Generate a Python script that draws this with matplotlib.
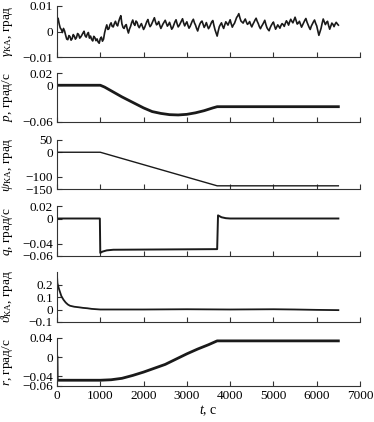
import numpy as np
import matplotlib
matplotlib.use("Agg")
import matplotlib.pyplot as plt

plt.rcParams['font.family'] = ['Liberation Serif', 'DejaVu Serif']
plt.rcParams['mathtext.fontset'] = 'custom'
plt.rcParams['mathtext.rm'] = 'Liberation Serif'
plt.rcParams['mathtext.it'] = 'Liberation Serif:italic'
plt.rcParams['font.size'] = 10

# ---------------- data ----------------
# gamma sampled every 50 s (t = 0, 50, ...) and at the 25 s offsets in between
gamma_v_a = [
    0.0045, 0.0030, 0.0008, 0.0012, -0.0015, -0.0032, -0.0020, -0.0028, -0.0018, -0.0024,
    -0.0012, -0.0021, -0.0006, -0.0017, -0.0010, -0.0026, -0.0031, -0.0019, -0.0036, -0.0041,
    -0.0028, -0.0038, -0.0005, 0.0026, 0.0011, 0.0034, 0.0018, 0.0040, 0.0022, 0.0052,
    0.0030, 0.0012, 0.0027, -0.0006, 0.0020, 0.0045, 0.0024, 0.0036, 0.0015, 0.0031,
    0.0008, 0.0028, 0.0047, 0.0019, 0.0035, 0.0054, 0.0026, 0.0039, 0.0012, 0.0030,
    0.0044, 0.0021, 0.0036, 0.0009, 0.0027, 0.0046, 0.0018, 0.0033, 0.0050, 0.0022,
    0.0038, 0.0013, 0.0031, 0.0048, 0.0025, 0.0002, 0.0029, 0.0041, 0.0016, 0.0035,
    0.0011, 0.0028, 0.0043, 0.0007, -0.0018, 0.0019, 0.0034, 0.0012, 0.0038, 0.0025,
    0.0046, 0.0017, 0.0032, 0.0055, 0.0070, 0.0041, 0.0033, 0.0049, 0.0028, 0.0039,
    0.0018, 0.0036, 0.0052, 0.0031, 0.0011, 0.0027, 0.0044, 0.0015, 0.0003, 0.0024,
    0.0037, 0.0009, 0.0026, 0.0013, 0.0031, 0.0020, 0.0042, 0.0025, 0.0048, 0.0034,
    0.0056, 0.0029, 0.0040, 0.0017, 0.0035, 0.0051, 0.0026, 0.0008, 0.0030, 0.0045,
    0.0022, -0.0015, 0.0012, 0.0049, 0.0027, 0.0040, 0.0009, 0.0033, 0.0019, 0.0036,
    0.0025,
]
gamma_v_b = [
    0.0052, 0.0014, -0.0004, 0.0002, -0.0030, -0.0016, -0.0034, -0.0012, -0.0030, -0.0008,
    -0.0026, -0.0014, 0.0001, -0.0022, -0.0004, -0.0018, -0.0037, -0.0024, -0.0029, -0.0046,
    -0.0022, -0.0030, 0.0012, 0.0008, 0.0027, 0.0020, 0.0031, 0.0028, 0.0039, 0.0062,
    0.0016, 0.0023, 0.0008, 0.0010, 0.0035, 0.0030, 0.0041, 0.0022, 0.0024, 0.0019,
    0.0016, 0.0039, 0.0030, 0.0025, 0.0046, 0.0038, 0.0030, 0.0024, 0.0021, 0.0037,
    0.0032, 0.0027, 0.0022, 0.0015, 0.0038, 0.0030, 0.0024, 0.0043, 0.0034, 0.0031,
    0.0024, 0.0020, 0.0041, 0.0034, 0.0012, 0.0017, 0.0037, 0.0028, 0.0024, 0.0022,
    0.0018, 0.0038, 0.0024, -0.0006, 0.0002, 0.0027, 0.0021, 0.0026, 0.0032, 0.0035,
    0.0030, 0.0026, 0.0043, 0.0061, 0.0054, 0.0037, 0.0042, 0.0037, 0.0032, 0.0027,
    0.0028, 0.0045, 0.0040, 0.0019, 0.0020, 0.0035, 0.0028, 0.0008, 0.0015, 0.0031,
    0.0022, 0.0017, 0.0020, 0.0024, 0.0027, 0.0032, 0.0035, 0.0038, 0.0040, 0.0045,
    0.0042, 0.0033, 0.0028, 0.0026, 0.0044, 0.0037, 0.0016, 0.0021, 0.0038, 0.0032,
    0.0004, -0.0002, 0.0032, 0.0038, 0.0035, 0.0023, 0.0021, 0.0028, 0.0029, 0.0030,
]
gamma_t = np.arange(0, 6501, 25)
gamma_v = np.empty(len(gamma_t))
gamma_v[0::2] = gamma_v_a
gamma_v[1::2] = gamma_v_b

p_t = [0, 1000, 1100, 1250, 1500, 1750, 2000, 2200, 2400, 2600, 2800, 3000, 3200, 3400, 3600, 3700, 6500]
p_v = [0.0, 0.0, -0.003, -0.009, -0.019, -0.028, -0.037, -0.043, -0.046, -0.048, -0.0485, -0.0475, -0.045, -0.0415, -0.037, -0.035, -0.035]

psi_t = [0, 1000, 3700, 6500]
psi_v = [0.0, 0.0, -137.0, -137.0]

q_t = [0, 990, 1000, 1050, 1150, 1300, 3700, 3720, 3800, 3900, 4000, 6500]
q_v = [0.0, 0.0, -0.055, -0.053, -0.051, -0.050, -0.049, 0.005, 0.002, 0.0005, 0.0, 0.0]

theta_t = [0, 10, 50, 100, 150, 200, 250, 300, 400, 500, 600, 700, 800, 1000, 2000, 3000, 4000, 5000, 5500, 6000, 6500]
theta_v = [0.27, 0.21, 0.16, 0.108, 0.078, 0.056, 0.040, 0.030, 0.022, 0.018, 0.013, 0.010, 0.005, 0.0, 0.0, 0.002, 0.0, 0.002, 0.0, -0.003, -0.005]

r_t = [0, 5, 1000, 1250, 1500, 1750, 2000, 2250, 2500, 2750, 3000, 3250, 3500, 3700, 6500]
r_v = [0.0, -0.048, -0.048, -0.047, -0.044, -0.038, -0.031, -0.023, -0.015, -0.004, 0.007, 0.017, 0.026, 0.034, 0.034]

ylabels = [r'$\gamma_{\mathrm{КА}}$, град', r'$p$, град/с', r'$\psi_{\mathrm{КА}}$, град',
           r'$q$, град/с', r'$\vartheta_{\mathrm{КА}}$, град', r'$r$, град/с']
yticks = [[-0.01, 0, 0.01], [-0.06, 0, 0.02], [-150, -100, 0, 50],
          [-0.06, -0.04, 0, 0.02], [-0.1, 0, 0.1, 0.2], [-0.06, -0.04, 0, 0.04]]
yticklabels = [['−0.01', '0', '0.01'], ['−0.06', '0', '0.02'], ['−150', '−100', '0', '50'],
               ['−0.06', '−0.04', '0', '0.02'], ['−0.1', '0', '0.1', '0.2'], ['−0.06', '−0.04', '0', '0.04']]
ylims = [(-0.01, 0.01), (-0.06, 0.02), (-150, 50), (-0.06, 0.02), (-0.1, 0.3), (-0.06, 0.04)]
xticks = [0, 1000, 2000, 3000, 4000, 5000, 6000, 7000]

series = [(gamma_t, gamma_v, 1.2), (p_t, p_v, 2.0), (psi_t, psi_v, 1.0),
          (q_t, q_v, 1.4), (theta_t, theta_v, 1.3), (r_t, r_v, 2.0)]

# ---------------- layout (pixels) ----------------
W, H = 374, 422
fig = plt.figure(figsize=(W / 100, H / 100), dpi=100)
left_px, right_px = 57, 360
panels_px = [(6, 57), (73, 122), (140, 189), (206, 256), (272, 322), (338, 386)]

for i, ((top, bot), (tt, vv, lw)) in enumerate(zip(panels_px, series)):
    ax = fig.add_axes([left_px / W, 1 - bot / H, (right_px - left_px) / W, (bot - top) / H])
    ax.plot(tt, vv, color='#1a1a1a', lw=lw, solid_joinstyle='round')
    ax.set_xlim(0, 7000)
    ax.set_ylim(*ylims[i])
    ax.set_yticks(yticks[i])
    ax.set_yticklabels(yticklabels[i])
    ax.set_xticks(xticks)
    for s in ['top', 'right']:
        ax.spines[s].set_visible(False)
    for s in ['left', 'bottom']:
        ax.spines[s].set_linewidth(0.8)
        ax.spines[s].set_color('#333333')
    ax.tick_params(direction='in', length=3.5, width=0.8, pad=3, labelsize=9.5, color='#333333')
    if i < 5:
        ax.tick_params(axis='x', labelbottom=False)
    else:
        ax.set_xticklabels([str(x) for x in xticks])
        ax.set_xlabel(r'$t$, с', labelpad=1)
    ax.set_ylabel(ylabels[i], fontsize=9.5)
    ax.yaxis.set_label_coords(-0.138, 0.5)

fig.savefig('out.png', dpi=100)
